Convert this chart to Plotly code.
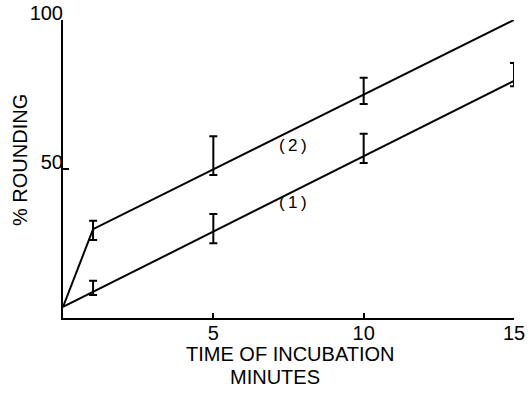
import plotly.graph_objects as go

# Incubation time (minutes) and % rounding
line1_t = [0, 15]
line1_y = [3.7, 79.6]
line2_t = [0, 1, 15]
line2_y = [3.7, 29.8, 100.0]

bars1_t = [1, 5, 10, 15]
bars1_mean = [10.1, 30.0, 56.9, 81.7]
bars1_err = [2.4, 4.9, 4.9, 3.9]

bars2_t = [1, 5, 10]
bars2_mean = [29.4, 54.5, 76.2]
bars2_err = [3.2, 6.5, 4.4]

x_ticks = [5, 10, 15]
x_tick_text = ["5", "10", "15"]
y_ticks = [50, 100]
y_tick_text = ["50", "100"]

curve_labels = ["(\u20091\u2009)", "(\u20092\u2009)"]
curve_label_t = [7.65, 7.65]
curve_label_y = [38.9, 58.0]

FONT = "Liberation Sans, Arial, sans-serif"

fig = go.Figure()

for t, y in [(line1_t, line1_y), (line2_t, line2_y)]:
    fig.add_trace(go.Scatter(x=t, y=y, mode="lines",
                             line=dict(color="black", width=2),
                             showlegend=False, hoverinfo="skip"))

for t, m, e in [(bars1_t, bars1_mean, bars1_err), (bars2_t, bars2_mean, bars2_err)]:
    fig.add_trace(go.Scatter(x=t, y=m, mode="markers",
                             marker=dict(size=1, color="rgba(0,0,0,0)"),
                             error_y=dict(type="data", array=e, visible=True,
                                          color="black", thickness=2, width=4),
                             showlegend=False, hoverinfo="skip", cliponaxis=False))

for txt, t, y in zip(curve_labels, curve_label_t, curve_label_y):
    fig.add_annotation(x=t, y=y, text=txt, showarrow=False,
                       font=dict(family=FONT, size=17, color="black"))

# axis titles
title_font = dict(family=FONT, size=20, color="black")
fig.add_annotation(xref="paper", yref="paper", x=(290 - 63) / 451, y=(318 - 354) / 298,
                   xanchor="center", yanchor="middle",
                   text="TIME OF INCUBATION", showarrow=False, font=title_font)
fig.add_annotation(xref="paper", yref="paper", x=(275 - 63) / 451, y=(318 - 377) / 298,
                   xanchor="center", yanchor="middle",
                   text="MINUTES", showarrow=False, font=title_font)
fig.add_annotation(xref="paper", yref="paper", x=(20 - 63) / 451, y=(318 - 160) / 298,
                   xanchor="center", yanchor="middle",
                   text="% ROUNDING", textangle=-90, showarrow=False, font=title_font)

fig.update_xaxes(range=[0, 15], showgrid=False, zeroline=False, automargin=False,
                 showline=True, linecolor="black", linewidth=2,
                 ticks="inside", ticklen=5, tickwidth=2, tickcolor="black",
                 tickvals=x_ticks, ticktext=x_tick_text,
                 ticklabelstandoff=-4,
                 tickfont=dict(family=FONT, size=20, color="black"))
fig.update_yaxes(range=[0, 100], showgrid=False, zeroline=False, automargin=False,
                 showline=True, linecolor="black", linewidth=2,
                 ticks="inside", ticklen=6, tickwidth=2, tickcolor="black",
                 tickvals=y_ticks, ticktext=y_tick_text,
                 ticklabelshift=-7, ticklabelstandoff=-6,
                 tickfont=dict(family=FONT, size=20, color="black"))

fig.update_layout(width=532, height=393,
                  margin=dict(l=63, r=18, t=20, b=75),
                  paper_bgcolor="white", plot_bgcolor="white")

fig.write_html("out.html")
